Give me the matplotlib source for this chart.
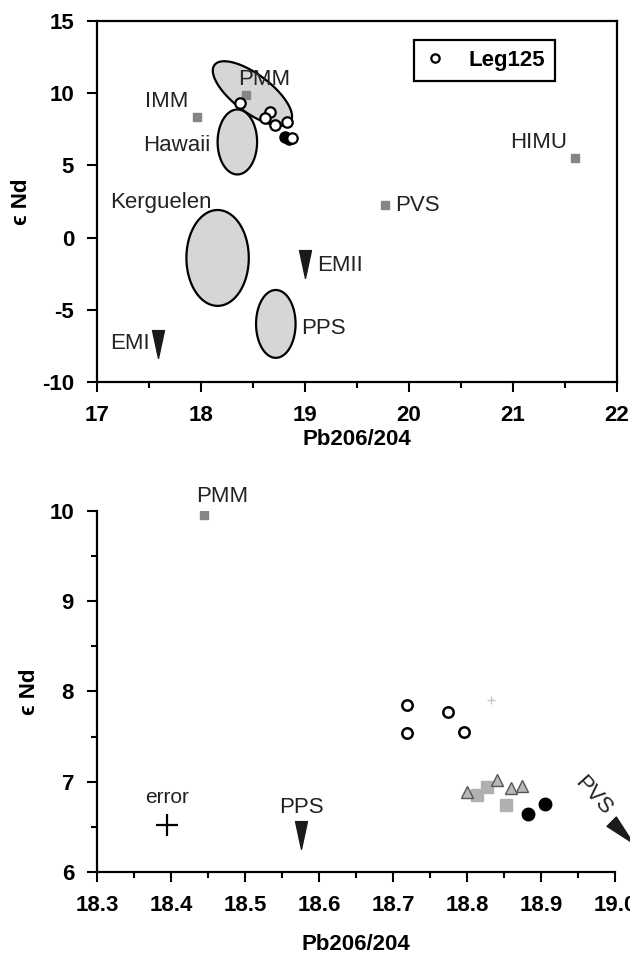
import numpy as np
import matplotlib
matplotlib.use("Agg")
import matplotlib.pyplot as plt
from matplotlib.patches import Polygon
from matplotlib.path import Path
from matplotlib.markers import MarkerStyle
from matplotlib.lines import Line2D
from matplotlib.ticker import MultipleLocator

plt.rcParams['font.family'] = ['Liberation Sans', 'DejaVu Sans']
plt.rcParams['axes.unicode_minus'] = False

# ---------------- top panel data ----------------
end_names = ['IMM', 'PMM', 'HIMU', 'PVS']
end_x = [17.96, 18.43, 21.6, 19.77]
end_y = [8.35, 9.88, 5.5, 2.26]

em_names = ['EMI', 'EMII']
em_x = [17.59, 19.0]
em_y = [-7.4, -1.8]

# fields: centre and two half axes (dx, dy) in data units
ell_names = ['PMM', 'Hawaii', 'Kerguelen', 'PPS']
ell_cx = [18.495, 18.35, 18.16, 18.72]
ell_cy = [9.975, 6.62, -1.41, -5.98]
ell_a = [(0.365, -1.975), (0.19, 0.0), (0.30, 0.0), (0.19, 0.0)]
ell_b = [(0.11, 1.05), (0.0, 2.25), (0.0, 3.32), (0.0, 2.35)]

leg_x = [18.375, 18.66, 18.62, 18.71, 18.83, 18.88]
leg_y = [9.32, 8.70, 8.28, 7.80, 8.0, 6.9]
blk_top_x = [18.81, 18.85]
blk_top_y = [6.97, 6.83]

# label text, x, y (left edge / vertical centre)
top_labels = ['IMM', 'PMM', 'Hawaii', 'Kerguelen', 'EMII', 'PPS', 'EMI', 'HIMU', 'PVS']
top_lab_x = [17.46, 18.36, 17.44, 17.13, 19.12, 18.96, 17.13, 20.97, 19.87]
top_lab_y = [9.4, 10.95, 6.35, 2.4, -1.95, -6.3, -7.35, 6.55, 2.2]

# ---------------- bottom panel data ----------------
pmm2_x, pmm2_y = 18.445, 9.96
open_x = [18.719, 18.719, 18.774, 18.796]
open_y = [7.85, 7.54, 7.77, 7.55]
tri_x = [18.80, 18.84, 18.86, 18.874]
tri_y = [6.89, 7.02, 6.93, 6.95]
sq_x = [18.814, 18.827, 18.853]
sq_y = [6.85, 6.94, 6.74]
blk_x = [18.882, 18.905]
blk_y = [6.64, 6.75]
faint_x, faint_y = 18.832, 7.91
err_x, err_y = 18.395, 6.52
pps_x, pps_y = 18.576, 6.41
pvs_x, pvs_y = 19.01, 6.44

LABFS = 16
TICKFS = 16
AXFS = 16
TXT = '#222222'

tri_path = Path([(-0.43, 1), (0.43, 1), (0, -1), (-0.43, 1)],
                [Path.MOVETO, Path.LINETO, Path.LINETO, Path.CLOSEPOLY])
down_tri = MarkerStyle(tri_path)
pvs_tri = MarkerStyle(tri_path).rotated(deg=45)


def ellipse_pts(cx, cy, a, b, n=120):
    t = np.linspace(0, 2 * np.pi, n)
    xs = cx + a[0] * np.cos(t) + b[0] * np.sin(t)
    ys = cy + a[1] * np.cos(t) + b[1] * np.sin(t)
    return np.column_stack([xs, ys])


def style_axes(ax):
    for s in ax.spines.values():
        s.set_linewidth(1.6)
    ax.tick_params(which='major', direction='out', length=7.5, width=1.5,
                   labelsize=TICKFS, pad=9)
    ax.tick_params(which='minor', direction='out', length=4, width=1.5)
    for lab in ax.get_xticklabels() + ax.get_yticklabels():
        lab.set_fontweight('bold')


fig = plt.figure(figsize=(6.3, 9.58), dpi=100)

# ================= top =================
ax1 = fig.add_axes([0.154, 0.6013, 0.825, 0.3768])
ax1.set_xlim(17, 22)
ax1.set_ylim(-10, 15)
ax1.xaxis.set_major_locator(MultipleLocator(1))
ax1.xaxis.set_minor_locator(MultipleLocator(0.5))
ax1.yaxis.set_major_locator(MultipleLocator(5))
ax1.tick_params(top=False, right=False)

for i in range(len(ell_names)):
    pts = ellipse_pts(ell_cx[i], ell_cy[i], ell_a[i], ell_b[i])
    ax1.add_patch(Polygon(pts, closed=True, facecolor='#d6d6d6',
                          edgecolor='black', linewidth=1.6, zorder=2))

ax1.scatter(end_x, end_y, marker='s', s=40, color='#858585', zorder=4)
ax1.plot(blk_top_x, blk_top_y, 'o', color='black', ms=8, zorder=5)
ax1.plot(leg_x, leg_y, 'o', mfc='white', mec='black', mew=1.6, ms=7.5, zorder=6)
ax1.plot(em_x, em_y, ls='none', marker=down_tri, ms=20, color='#1a1a1a', zorder=4)

for t, x, y in zip(top_labels, top_lab_x, top_lab_y):
    ax1.text(x, y, t, fontsize=LABFS, ha='left', va='center', color=TXT, zorder=7)

hnd = Line2D([], [], ls='none', marker='o', mfc='white', mec='black', mew=1.6, ms=6)
leg = ax1.legend(handles=[hnd], labels=['Leg125'], loc='upper left',
                 bbox_to_anchor=(0.61, 0.947), frameon=True, fancybox=False,
                 edgecolor='black', framealpha=1, borderpad=0.45,
                 handlelength=1.0, handletextpad=1.0, borderaxespad=0,
                 prop={'weight': 'bold', 'size': LABFS})
leg.get_frame().set_linewidth(1.6)

ax1.set_xlabel('Pb206/204', fontsize=AXFS, fontweight='bold', labelpad=2)
ax1.set_ylabel('\u03f5 Nd', fontsize=AXFS, fontweight='bold', labelpad=7)
style_axes(ax1)

# ================= bottom =================
ax2 = fig.add_axes([0.154, 0.0898, 0.822, 0.3768])
ax2.set_xlim(18.3, 19.0)
ax2.set_ylim(6, 10)
ax2.xaxis.set_major_locator(MultipleLocator(0.1))
ax2.xaxis.set_minor_locator(MultipleLocator(0.05))
ax2.yaxis.set_major_locator(MultipleLocator(1))
ax2.yaxis.set_minor_locator(MultipleLocator(0.5))
ax2.xaxis.set_major_formatter(matplotlib.ticker.FormatStrFormatter('%.1f'))
ax2.spines['top'].set_visible(False)
ax2.spines['right'].set_visible(False)

ax2.scatter([pmm2_x], [pmm2_y], marker='s', s=40, color='#858585', zorder=4)
ax2.text(pmm2_x - 0.011, pmm2_y + 0.2, 'PMM', fontsize=LABFS, ha='left', va='center', color=TXT)

ax2.plot(open_x, open_y, 'o', mfc='white', mec='black', mew=1.8, ms=7.5, zorder=5)
ax2.plot([faint_x], [faint_y], marker='+', color='#c8c8c8', ms=6, mew=1, ls='none')
ax2.plot(sq_x, sq_y, 's', color='#b0b0b0', ms=8, zorder=4)
ax2.plot(tri_x, tri_y, '^', mfc='#b8b8b8', mec='#555555', mew=1, ms=8, zorder=5)
ax2.plot(blk_x, blk_y, 'o', color='black', ms=9, zorder=6)

ax2.plot([err_x], [err_y], marker='+', color='black', ms=16, mew=1.6, ls='none')
ax2.text(err_x, err_y + 0.31, 'error', fontsize=LABFS - 1, ha='center', va='center', color=TXT)

ax2.plot([pps_x], [pps_y], ls='none', marker=down_tri, ms=20, color='#1a1a1a')
ax2.text(pps_x, pps_y + 0.30, 'PPS', fontsize=LABFS, ha='center', va='center', color=TXT)

ax2.plot([pvs_x], [pvs_y], ls='none', marker=pvs_tri, ms=22, color='#1a1a1a', clip_on=False)
ax2.text(pvs_x - 0.04, pvs_y + 0.40, 'PVS', fontsize=LABFS, ha='center', va='center',
         rotation=-48, color=TXT, rotation_mode='anchor')

ax2.set_xlabel('Pb206/204', fontsize=AXFS, fontweight='bold', labelpad=13)
ax2.set_ylabel('\u03f5 Nd', fontsize=AXFS, fontweight='bold', labelpad=7)
style_axes(ax2)

fig.savefig('out.png', dpi=100)
